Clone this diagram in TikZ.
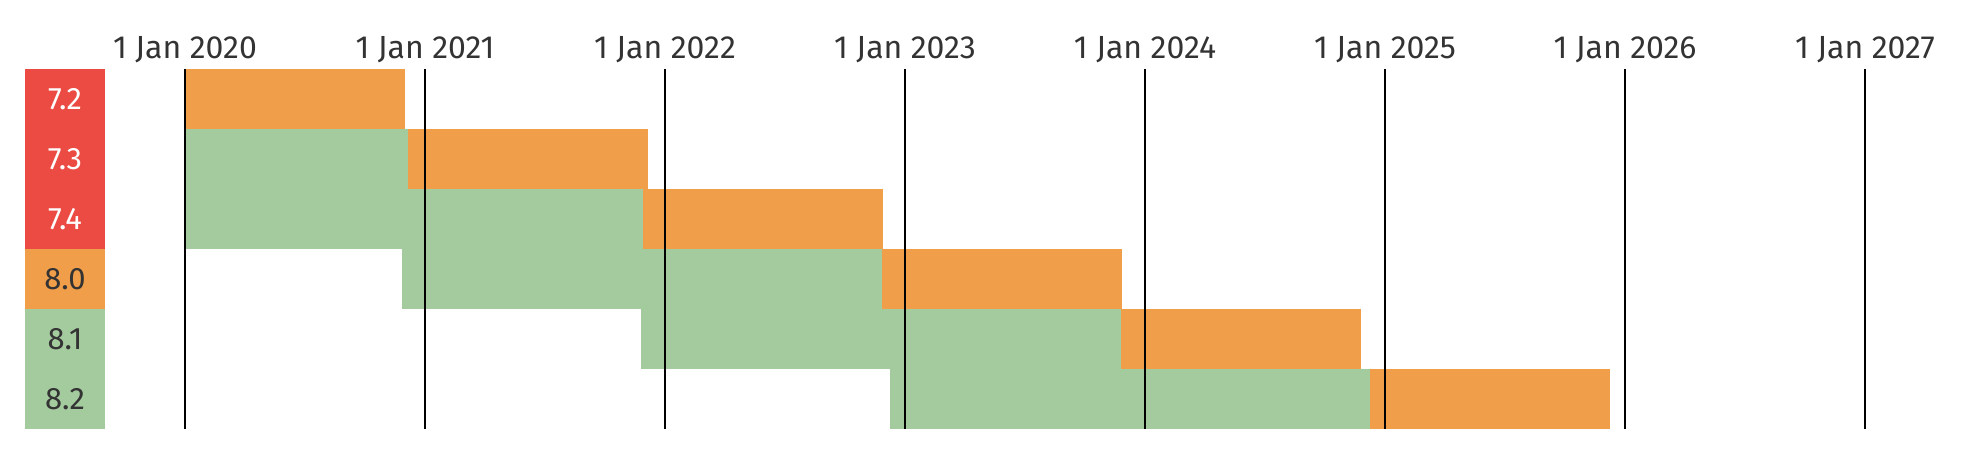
\documentclass[tikz,border=0pt]{standalone}
\usepackage{fontspec}
\setmainfont{Fira Sans}
\usepackage{xcolor}
\definecolor{eolred}{HTML}{EB4B43}
\definecolor{secorange}{HTML}{F09E4A}
\definecolor{activegreen}{HTML}{A4CB9E}
\definecolor{inkgrey}{HTML}{333333}

\begin{document}
\begin{tikzpicture}[x=0.5pt,y=-0.5pt,font=\fontsize{15.5}{18}\selectfont]
\useasboundingbox (0,0) rectangle (1970,464);
% version column
\foreach \row/\ver/\bg/\fg in {0/7.2/eolred/white,1/7.3/eolred/white,2/7.4/eolred/white,3/8.0/secorange/inkgrey,4/8.1/activegreen/inkgrey,5/8.2/activegreen/inkgrey}{
\node[fill=\bg,text=\fg,minimum width=40pt,minimum height=30pt,inner sep=0pt] (v\row) at (65,99+60*\row) {\ver};}
% active support, then security support
\fill[secorange] (185,69) rectangle (404.6,129);
\foreach \row/\ga/\gb/\ob in {1/185/408.3/648.3,2/185/643.4/883.4,3/402.2/882.2/1122.2,4/641/1121/1361,5/889.9/1369.9/1609.9}{
\fill[activegreen] (\ga,69+60*\row) rectangle (\gb,129+60*\row);
\fill[secorange] (\gb,69+60*\row) rectangle (\ob,129+60*\row);}
% years
\foreach \yr [count=\i from 0] in {2020,...,2027}{
\draw[line width=0.8pt] (185+240*\i,69) -- (185+240*\i,429);
\node[anchor=base,text=inkgrey,inner sep=0pt,font=\fontsize{16}{19}\selectfont] (y\yr) at (185+240*\i,59) {1 Jan \yr};}
\end{tikzpicture}
\end{document}
